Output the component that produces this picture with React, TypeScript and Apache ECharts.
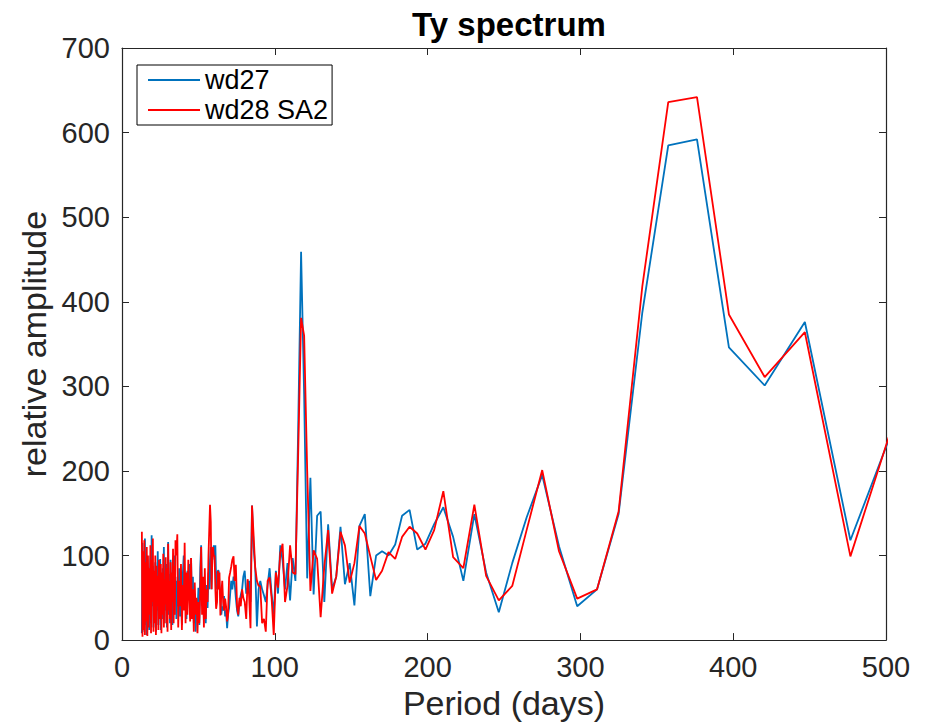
import React, { useEffect, useRef } from "react";
import * as echarts from "echarts";

// Periods (days), ascending
const periodsLow = [
  13.0, 13.4, 13.8, 14.2, 14.6, 15.0, 15.4, 15.8, 16.2, 16.6,
  17.0, 17.4, 17.8, 18.2, 18.6, 19.0, 19.4, 19.8, 20.2, 20.6,
  21.0, 21.4, 21.8, 22.2, 22.6, 23.0, 23.4, 23.8, 24.2, 24.6,
  25.0, 25.4, 25.8, 26.2, 26.6, 27.0, 27.4, 27.8, 28.2, 28.6,
  29.0, 29.4, 29.8, 30.2, 30.6, 31.0, 31.4, 31.8, 32.2, 32.6,
  33.0, 33.4, 33.8, 34.2, 34.6, 35.0,
];
const periodsLow2 = [
  35.6, 36.2, 36.8, 37.4, 38.0, 38.6, 39.2, 39.8, 40.4, 41.0,
  41.6, 42.2, 42.8, 43.4, 44.0, 44.6, 45.2, 45.8, 46.4, 47.0,
  47.6, 48.2, 48.8, 49.4, 50.0, 50.6, 51.2, 51.8, 52.4, 53.0,
  53.6, 54.2, 54.8, 55.4, 56.0, 56.6, 57.1, 57.6, 58.1, 58.6, 59.1,
];
const periodsMid = [
  59.6, 60.1, 60.6, 61.1, 61.6, 62.2, 62.7, 63.3, 63.8, 64.4,
  65.0, 65.6, 66.2, 66.8, 67.5, 68.1, 68.8, 69.4, 70.1, 70.8,
  71.5, 72.2, 73.0, 73.7, 74.5, 75.3, 76.1, 76.9, 77.7, 78.6,
  79.4, 80.3, 81.3, 82.2, 83.1, 84.1, 85.1, 86.1, 87.2, 88.3,
  89.4, 90.5, 91.7, 92.9, 94.1, 95.3, 96.6, 97.9, 99.3,
];
const periodsNear = [100.7, 102.1, 103.6, 105.1, 106.7, 108.3, 110.0, 111.7, 113.5, 115.3];
const periodsHigh = [
  117.2, 119.2, 121.2, 123.3, 125.4, 127.7, 130.0, 132.4, 134.9, 137.5,
  140.2, 143.0, 145.9, 149.0, 152.1, 155.4, 158.9, 162.5, 166.3, 170.2,
  174.4, 178.8, 183.3, 188.2, 193.2, 198.6, 204.3, 210.3, 216.7, 223.4,
  230.6, 238.3, 246.6, 255.4, 264.8, 275.0, 286.0, 297.9, 310.9, 325.0,
  340.5, 357.5, 376.3, 397.2, 420.6, 446.9, 476.7, 510.7,
];

// wd27 (blue)
const wd27Low = [
  8, 115, 25, 90, 10, 120, 18, 75, 6, 95,
  30, 82, 12, 68, 100, 20, 124, 40, 88, 15,
  70, 28, 92, 10, 60, 35, 105, 18, 80, 45,
  96, 12, 66, 25, 85, 40, 110, 20, 72, 35,
  90, 15, 58, 116, 30, 78, 20, 95, 45, 70,
  18, 88, 30, 100, 50, 75,
];
const wd27Low2 = [
  25, 70, 40, 85, 28, 62, 18, 78, 100, 45,
  70, 25, 82, 48, 90, 30, 97, 42, 75, 20,
  55, 10, 48, 30, 62, 18, 85, 112, 40, 60,
  25, 50, 20, 65, 38, 80, 60, 95, 110, 60, 100,
];
const wd27Mid = [
  107, 112, 95, 112, 70, 60, 82, 82, 65, 50,
  30, 40, 35, 52, 28, 35, 14, 30, 38, 55,
  70, 60, 75, 68, 50, 35, 28, 45, 53, 60,
  75, 82, 55, 60, 70, 45, 159, 110, 85, 16,
  60, 70, 60, 53, 45, 65, 85, 55, 30,
];
const wd27Near = [82, 55, 112, 94, 60, 91, 47, 97, 70, 250];
const wd27High = [
  459, 290, 73, 192, 54, 147, 152, 45, 137, 60,
  75, 134, 66, 91, 41, 135, 149, 52, 100, 105,
  100, 113, 147, 154, 107, 114, 137, 157, 122, 70,
  149, 80, 33, 91, 145, 195, 111, 40, 60, 149,
  387, 585, 592, 346, 301, 376, 118, 279,
];

// wd28 SA2 (red)
const wd28Low = [
  128, 4, 105, 12, 118, 6, 92, 22, 110, 5,
  100, 15, 85, 30, 112, 8, 95, 45, 120, 10,
  82, 20, 100, 6, 88, 40, 76, 12, 95, 25,
  68, 90, 8, 80, 30, 102, 15, 72, 42, 98,
  20, 85, 10, 114, 35, 70, 25, 92, 12, 80,
  45, 108, 20, 88, 30, 118,
];
const wd28Low2 = [
  100, 125, 15, 70, 40, 90, 12, 65, 35, 115,
  20, 80, 30, 95, 55, 22, 97, 25, 60, 10,
  68, 30, 50, 8, 45, 20, 55, 110, 30, 75,
  15, 85, 25, 60, 45, 100, 130, 160, 140, 60, 95,
];
const wd28Mid = [
  110, 99, 100, 60, 37, 45, 82, 60, 80, 29,
  55, 70, 45, 35, 49, 40, 22, 30, 74, 80,
  87, 95, 99, 70, 89, 40, 30, 50, 40, 60,
  50, 45, 25, 72, 55, 14, 159, 125, 85, 70,
  64, 64, 20, 25, 10, 70, 74, 50, 6,
];
const wd28Near = [80, 62, 103, 114, 45, 64, 112, 80, 78, 220];
const wd28High = [
  381, 360, 200, 58, 106, 96, 27, 87, 130, 55,
  75, 128, 112, 68, 91, 135, 126, 99, 71, 82,
  104, 96, 122, 134, 126, 107, 130, 176, 98, 85,
  160, 76, 47, 64, 130, 201, 105, 49, 60, 152,
  418, 636, 642, 385, 311, 364, 99, 290,
];

const xTicks = [0, 100, 200, 300, 400, 500];
const yTicks = [0, 100, 200, 300, 400, 500, 600, 700];

const FONT = '"Liberation Sans", Arial, Helvetica, sans-serif';
const INK = "#262626";

export default function App() {
  const ref = useRef<HTMLDivElement>(null);

  useEffect(() => {
    const chart = echarts.init(ref.current!, null, { renderer: "svg" });
    const periods = [...periodsLow, ...periodsLow2, ...periodsMid, ...periodsNear, ...periodsHigh];
    const blue = [...wd27Low, ...wd27Low2, ...wd27Mid, ...wd27Near, ...wd27High];
    const red = [...wd28Low, ...wd28Low2, ...wd28Mid, ...wd28Near, ...wd28High];
    const pair = (vals: number[]) => periods.map((p, i) => [p, vals[i]]);

    const xMin = xTicks[0];
    const xMax = xTicks[xTicks.length - 1];
    const yMin = yTicks[0];
    const yMax = yTicks[yTicks.length - 1];

    const tick = { show: true, inside: true, length: 7, lineStyle: { color: INK, width: 1 } };
    const line = { show: true, onZero: false, lineStyle: { color: INK, width: 1.2 } };

    chart.setOption({
      animation: false,
      backgroundColor: "#fff",
      textStyle: { fontFamily: FONT },
      title: {
        text: "Ty spectrum",
        left: 504,
        textAlign: "center",
        top: 3,
        textStyle: { fontFamily: FONT, fontSize: 33, fontWeight: "bold", color: "#000" },
      },
      legend: {
        orient: "vertical",
        left: 137,
        top: 65,
        icon: "rect",
        itemWidth: 52,
        itemHeight: 2,
        itemGap: 2,
        itemTextGap: 5,
        padding: [1, 4, 1, 11],
        borderColor: "#000",
        borderWidth: 1,
        backgroundColor: "#fff",
        textStyle: { fontFamily: FONT, fontSize: 27, lineHeight: 28, color: "#000" },
        data: ["wd27", "wd28 SA2"],
      },
      grid: { left: 122, right: 41, top: 48, bottom: 73, containLabel: false },
      xAxis: [
        {
          type: "value",
          min: xMin,
          max: xMax,
          interval: 100,
          name: "Period (days)",
          nameLocation: "middle",
          nameGap: 37,
          nameTextStyle: { fontFamily: FONT, fontSize: 34, color: INK },
          axisLine: line,
          axisTick: tick,
          axisLabel: { fontFamily: FONT, fontSize: 29, color: INK, margin: 12 },
          splitLine: { show: false },
        },
        {
          type: "value",
          position: "top",
          min: xMin,
          max: xMax,
          interval: 100,
          axisLine: line,
          axisTick: tick,
          axisLabel: { show: false },
          splitLine: { show: false },
        },
      ],
      yAxis: [
        {
          type: "value",
          min: yMin,
          max: yMax,
          interval: 100,
          name: "relative amplitude",
          nameLocation: "middle",
          nameGap: 70,
          nameTextStyle: { fontFamily: FONT, fontSize: 34, color: INK },
          axisLine: line,
          axisTick: tick,
          axisLabel: { fontFamily: FONT, fontSize: 29, color: INK, margin: 12 },
          splitLine: { show: false },
        },
        {
          type: "value",
          position: "right",
          min: yMin,
          max: yMax,
          interval: 100,
          axisLine: line,
          axisTick: tick,
          axisLabel: { show: false },
          splitLine: { show: false },
        },
      ],
      series: [
        {
          name: "wd27",
          type: "line",
          data: pair(blue),
          symbol: "none",
          clip: true,
          lineStyle: { color: "#0072BD", width: 1.8 },
          itemStyle: { color: "#0072BD" },
        },
        {
          name: "wd28 SA2",
          type: "line",
          data: pair(red),
          symbol: "none",
          clip: true,
          lineStyle: { color: "#FF0000", width: 1.8 },
          itemStyle: { color: "#FF0000" },
        },
      ],
    });
    return () => chart.dispose();
  }, []);

  return (
    <div
      ref={ref}
      style={{ position: "fixed", left: 0, top: 0, width: 927, height: 725, background: "#fff" }}
    />
  );
}
